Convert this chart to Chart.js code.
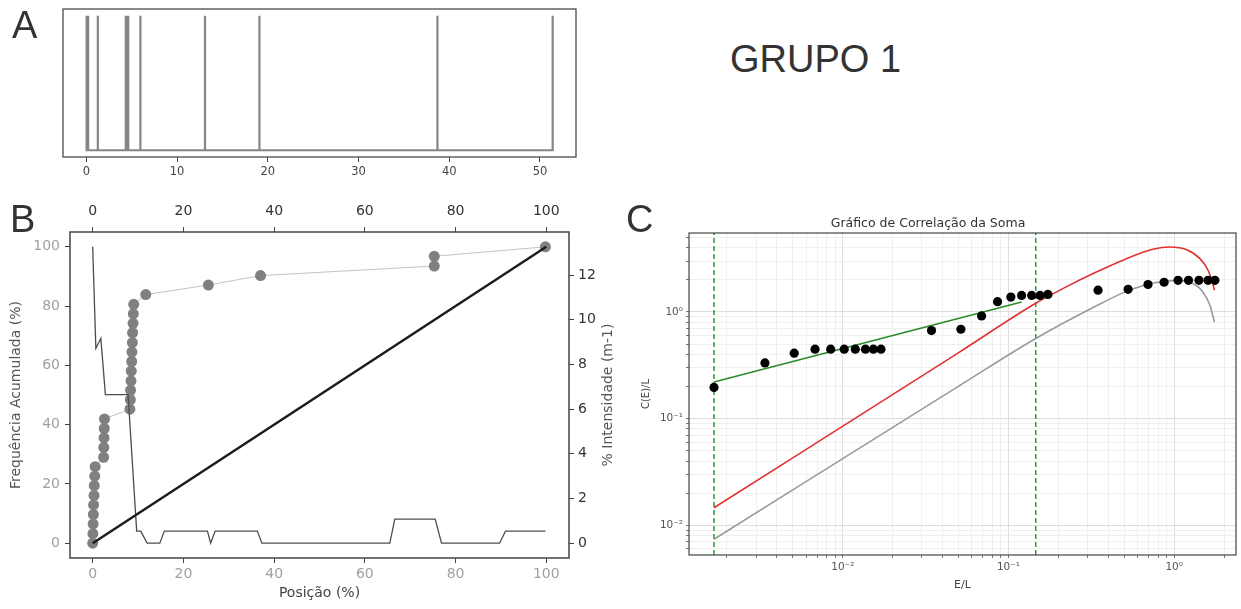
<!DOCTYPE html>
<html>
<head>
<meta charset="utf-8">
<script src="https://cdn.jsdelivr.net/npm/chart.js@4.4.1/dist/chart.umd.min.js"></script>
<style>
  body { margin: 0; background: #fff; }
  #page { position: relative; width: 1241px; height: 609px; overflow: hidden; font-family: 'Liberation Sans', Arial, sans-serif; }
  canvas { position: absolute; }
  .panel-label { position: absolute; font-size: 38px; line-height: 38px; color: #333; white-space: nowrap; }
</style>
</head>
<body>
<div id="page">
  <canvas id="chartA" width="600" height="190" style="left:0;top:0"></canvas>
  <canvas id="chartB" width="620" height="419" style="left:0;top:190px"></canvas>
  <canvas id="chartC" width="621" height="419" style="left:620px;top:190px"></canvas>
  <div class="panel-label" style="left:12px;top:6px">A</div>
  <div class="panel-label" style="left:10px;top:200px">B</div>
  <div class="panel-label" style="left:626px;top:200px">C</div>
  <div class="panel-label" style="left:730px;top:40px">GRUPO 1</div>
</div>
<script>
// Panel A - fracture positions along the scanline (m)
const aPositions = [0, 0.02, 0.04, 0.06, 0.09, 0.12, 0.15, 0.18, 0.2,
    1.27, 1.27, 1.27, 1.27, 1.27,
    4.35, 4.38, 4.4, 4.43, 4.45, 4.48, 4.5, 4.53, 4.55, 4.58, 4.6, 4.63,
    5.96, 13.08, 19.08, 38.7, 38.7, 51.4];
const aTicks = [0, 10, 20, 30, 40, 50];

// Panel B - cumulative frequency vs position (%)
const bPosition = [0, 0.05, 0.1, 0.15, 0.2, 0.3, 0.35, 0.45, 0.55,
    2.4, 2.45, 2.5, 2.55, 2.6,
    8.2, 8.3, 8.35, 8.45, 8.5, 8.6, 8.65, 8.75, 8.8, 8.9, 8.95, 9.05,
    11.7, 25.5, 37.0, 75.3, 75.3, 99.8];
const bCumFreq = [0, 3.2, 6.5, 9.7, 12.9, 16.1, 19.4, 22.6, 25.8,
    29.0, 32.3, 35.5, 38.7, 41.9,
    45.2, 48.4, 51.6, 54.8, 58.1, 61.3, 64.5, 67.7, 71.0, 74.2, 77.4, 80.6,
    83.9, 87.1, 90.3, 93.5, 96.8, 100];
const bDiagX = [0, 100];
const bDiagY = [0, 100];
const bIntensityX = [0, 0.7, 1.8, 2.8, 7.8, 9.7, 10.6, 12.0, 14.8, 15.8, 25.3, 26.0, 27.0,
    36.3, 37.3, 65.5, 66.6, 75.5, 76.9, 89.7, 91.0, 99.8];
const bIntensityY = [13.27, 8.72, 9.17, 6.65, 6.65, 0.54, 0.54, 0, 0, 0.54, 0.54, 0, 0.54,
    0.54, 0, 0, 1.08, 1.08, 0, 0, 0.54, 0.54];
const bTicks = [0, 20, 40, 60, 80, 100];
const bIntensityTicks = [0, 2, 4, 6, 8, 10, 12];

// Panel C - correlation sum
const cDotX = [0.00167, 0.00339, 0.00509, 0.0068, 0.00845, 0.0102, 0.0119, 0.0137, 0.0153, 0.017,
    0.0343, 0.0516, 0.0688, 0.0859, 0.1033, 0.12, 0.138, 0.155, 0.173,
    0.347, 0.527, 0.695, 0.869, 1.055, 1.22, 1.41, 1.6, 1.76];
const cDotY = [0.196, 0.333, 0.411, 0.448, 0.448, 0.448, 0.448, 0.448, 0.448, 0.448,
    0.67, 0.689, 0.918, 1.25, 1.38, 1.43, 1.43, 1.43, 1.46,
    1.6, 1.63, 1.81, 1.9, 1.98, 1.98, 1.98, 1.98, 1.98];
const cFitX = [0.00167, 0.12];
const cFitY = [0.221, 1.24];
const cRedX = [0.00167, 0.0509, 0.1476, 0.22, 0.324, 0.515, 0.745, 0.94, 1.19, 1.43, 1.6, 1.71, 1.75];
const cRedY = [0.0146, 0.423, 1.22, 1.7, 2.29, 3.16, 3.87, 4.06, 3.84, 3.16, 2.46, 1.85, 1.6];
const cGrayX = [0.00167, 0.0509, 0.146, 0.324, 0.515, 0.745, 1.03, 1.3, 1.49, 1.64, 1.75];
const cGrayY = [0.0074, 0.205, 0.564, 1.1, 1.56, 1.87, 1.98, 1.85, 1.54, 1.16, 0.807];
const cCutoffs = [0.00167, 0.146];
const cMajorTicks = [0.01, 0.1, 1];
const cMajorLabels = ['10⁻²', '10⁻¹', '10⁰'];

const FONT = "'DejaVu Sans', sans-serif";
Chart.defaults.font.family = FONT;

const C_XMIN = 0.00118, C_XMAX = 2.36;
const C_YMIN = 0.00527, C_YMAX = 5.5;

function toPoints(xs, ys) {
    return xs.map((x, i) => ({ x: x, y: ys[i] }));
}

// comb line: baseline with a spike at each fracture
function combPoints(positions) {
    const pts = [];
    positions.forEach(p => {
        pts.push({ x: p, y: 0 }, { x: p, y: 1 }, { x: p, y: 0 });
    });
    return pts;
}

const fixWidth = w => axis => { axis.width = w; };
const fixHeight = h => axis => { axis.height = h; };
const setTicks = values => axis => { axis.ticks = values.map(v => ({ value: v })); };

function logTicks(min, max) {
    return axis => {
        const ticks = [];
        for (let e = Math.floor(Math.log10(min)); e <= Math.ceil(Math.log10(max)); e++) {
            for (let m = 1; m < 10; m++) {
                const v = m * Math.pow(10, e);
                if (v >= min && v <= max) ticks.push({ value: v, major: m === 1 });
            }
        }
        axis.ticks = ticks;
    };
}

function majorLabel(value) {
    for (let i = 0; i < cMajorTicks.length; i++) {
        if (Math.abs(value - cMajorTicks[i]) < cMajorTicks[i] * 1e-6) return cMajorLabels[i];
    }
    return '';
}

const logGridColor = ctx => (ctx.tick && ctx.tick.major) ? '#d6d6d6' : '#ececec';

const framePlugin = {
    id: 'frame',
    afterDatasetsDraw(chart, args, opts) {
        const { ctx, chartArea: a } = chart;
        ctx.save();
        ctx.strokeStyle = opts.color || '#444';
        ctx.lineWidth = opts.width || 1.2;
        ctx.strokeRect(a.left, a.top, a.right - a.left, a.bottom - a.top);
        ctx.restore();
    }
};

// matplotlib-style right label, reading bottom to top
const rightTitlePlugin = {
    id: 'rightTitle',
    afterDraw(chart, args, opts) {
        if (!opts.text) return;
        const { ctx, chartArea: a } = chart;
        ctx.save();
        ctx.translate(opts.x, (a.top + a.bottom) / 2);
        ctx.rotate(-Math.PI / 2);
        ctx.font = opts.font;
        ctx.fillStyle = opts.color;
        ctx.textAlign = 'center';
        ctx.textBaseline = 'middle';
        ctx.fillText(opts.text, 0, 0);
        ctx.restore();
    }
};

const baseOptions = {
    responsive: false,
    animation: false,
    devicePixelRatio: 1,
    events: []
};

function tickAxis(extra) {
    return Object.assign({
        type: 'linear',
        border: { display: false },
        grid: { drawOnChartArea: false, tickLength: 5, tickColor: '#444', tickWidth: 1 }
    }, extra);
}

// Panel A
new Chart(document.getElementById('chartA'), {
    type: 'scatter',
    data: {
        datasets: [{
            data: combPoints(aPositions),
            showLine: true,
            borderColor: '#858585',
            borderWidth: 2.2,
            pointRadius: 0
        }]
    },
    options: Object.assign({}, baseOptions, {
        layout: { padding: { left: 63, right: 24, top: 9 } },
        plugins: { legend: { display: false }, tooltip: { enabled: false }, frame: { color: '#4a4a4a', width: 1.3 } },
        scales: {
            x: tickAxis({
                min: -2.57, max: 53.97,
                afterBuildTicks: setTicks(aTicks),
                afterFit: fixHeight(33),
                ticks: { color: '#444', font: { size: 11.5 }, padding: 3 }
            }),
            y: { type: 'linear', display: false, min: -0.05, max: 1.05 }
        }
    }),
    plugins: [framePlugin]
});

// Panel B
new Chart(document.getElementById('chartB'), {
    type: 'scatter',
    data: {
        datasets: [
            {
                data: toPoints(bDiagX, bDiagY),
                showLine: true, borderColor: '#1c1c1c', borderWidth: 2.5, pointRadius: 0, order: 0
            },
            {
                data: toPoints(bIntensityX, bIntensityY), yAxisID: 'y2',
                showLine: true, borderColor: '#4d4d4d', borderWidth: 1.3, pointRadius: 0, order: 1
            },
            {
                data: toPoints(bPosition, bCumFreq),
                showLine: true, borderColor: '#c4c4c4', borderWidth: 1,
                pointRadius: 5.5, pointBackgroundColor: '#808080', pointBorderWidth: 0, order: 2
            }
        ]
    },
    options: Object.assign({}, baseOptions, {
        layout: { padding: 0 },
        plugins: {
            legend: { display: false }, tooltip: { enabled: false },
            frame: { color: '#444', width: 1.5 },
            rightTitle: { text: '% Intensidade (m-1)', x: 608, color: '#555', font: '14px ' + FONT }
        },
        scales: {
            x: tickAxis({
                position: 'bottom', min: -5, max: 105,
                afterBuildTicks: setTicks(bTicks),
                afterFit: fixHeight(51),
                ticks: { color: '#a0a0a0', font: { size: 14 }, padding: 3 },
                title: { display: true, text: 'Posição (%)', color: '#444', font: { size: 14 }, padding: { top: 0, bottom: 7.6 } }
            }),
            x2: tickAxis({
                position: 'top', min: -5, max: 105,
                afterBuildTicks: setTicks(bTicks),
                afterFit: fixHeight(42),
                ticks: { color: '#333', font: { size: 14 }, padding: 7 }
            }),
            y: tickAxis({
                position: 'left', min: -5, max: 105,
                afterBuildTicks: setTicks(bTicks),
                afterFit: fixWidth(70),
                ticks: { color: '#a0a0a0', font: { size: 14 }, padding: 5 },
                title: { display: true, text: 'Frequência Acumulada (%)', color: '#555', font: { size: 14 }, padding: { top: 7.6, bottom: 0 } }
            }),
            y2: tickAxis({
                position: 'right', min: -0.664, max: 13.93,
                afterBuildTicks: setTicks(bIntensityTicks),
                afterFit: fixWidth(51),
                ticks: { color: '#333', font: { size: 14 }, padding: 4 }
            })
        }
    }),
    plugins: [framePlugin, rightTitlePlugin]
});

// Panel C
const cutoffSets = cCutoffs.map(x => ({
    data: [{ x: x, y: C_YMIN }, { x: x, y: C_YMAX }],
    showLine: true, borderColor: '#2e9a2e', borderWidth: 1.5, borderDash: [5, 3], pointRadius: 0, order: 4
}));

new Chart(document.getElementById('chartC'), {
    type: 'scatter',
    data: {
        datasets: [
            { data: toPoints(cDotX, cDotY), pointRadius: 4.6, pointBackgroundColor: '#000', pointBorderWidth: 0, order: 0 },
            { data: toPoints(cFitX, cFitY), showLine: true, borderColor: '#2a8a2a', borderWidth: 1.6, pointRadius: 0, order: 1 },
            { data: toPoints(cRedX, cRedY), showLine: true, borderColor: '#e03232', borderWidth: 1.6, pointRadius: 0, cubicInterpolationMode: 'monotone', order: 2 },
            { data: toPoints(cGrayX, cGrayY), showLine: true, borderColor: '#9a9a9a', borderWidth: 1.6, pointRadius: 0, cubicInterpolationMode: 'monotone', order: 3 }
        ].concat(cutoffSets)
    },
    options: Object.assign({}, baseOptions, {
        layout: { padding: { right: 5 } },
        plugins: {
            legend: { display: false }, tooltip: { enabled: false },
            frame: { color: '#444', width: 1.2 },
            title: {
                display: true, text: 'Gráfico de Correlação da Soma', color: '#333',
                font: { size: 12.5, weight: 'normal' }, padding: { top: 26, bottom: 2 }
            }
        },
        scales: {
            x: {
                type: 'logarithmic', min: C_XMIN, max: C_XMAX,
                afterBuildTicks: logTicks(C_XMIN, C_XMAX),
                afterFit: fixHeight(54),
                border: { display: false },
                grid: { color: logGridColor, lineWidth: 0.8, tickLength: 3, tickColor: '#555' },
                ticks: { autoSkip: false, maxRotation: 0, color: '#555', font: { size: 10.5 }, padding: 3, callback: majorLabel },
                title: { display: true, text: 'E/L', color: '#444', font: { size: 11 }, padding: { top: 0, bottom: 17.4 } }
            },
            y: {
                type: 'logarithmic', min: C_YMIN, max: C_YMAX,
                afterBuildTicks: logTicks(C_YMIN, C_YMAX),
                afterFit: fixWidth(69),
                border: { display: false },
                grid: { color: logGridColor, lineWidth: 0.8, tickLength: 3, tickColor: '#555' },
                ticks: { autoSkip: false, color: '#555', font: { size: 10.5 }, padding: 3, callback: majorLabel },
                title: { display: true, text: 'C(E)/L', color: '#444', font: { size: 10 }, padding: { top: 20, bottom: 0 } }
            }
        }
    }),
    plugins: [framePlugin]
});
</script>
</body>
</html>
